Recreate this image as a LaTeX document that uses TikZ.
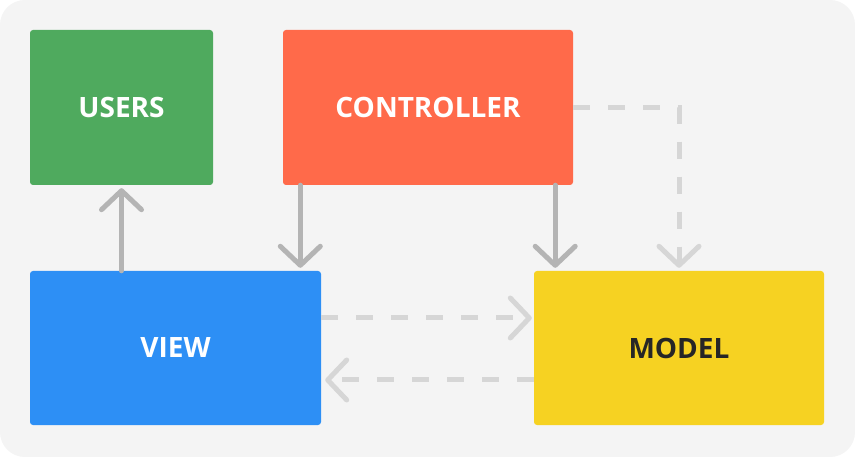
\documentclass[tikz,border=0pt]{standalone}
\usepackage{fontspec}
\setmainfont{Open Sans}
\usetikzlibrary{positioning,arrows.meta}

\definecolor{panelgray}{HTML}{F4F4F4}
\definecolor{usersgreen}{HTML}{4FAA5E}
\definecolor{ctrlred}{HTML}{FF6A4A}
\definecolor{viewblue}{HTML}{2D8FF5}
\definecolor{modelyellow}{HTML}{F6D222}
\definecolor{solidgray}{HTML}{B4B4B4}
\definecolor{dashgray}{HTML}{D6D6D6}

\begin{document}
\begin{tikzpicture}[x=1pt,y=-1pt,
  box/.style={rounded corners=3pt,inner sep=0pt,text=white,
    font=\bfseries\fontsize{28}{32}\selectfont},
  solidarr/.style={line width=5pt,draw=solidgray,line cap=round,
    -{Straight Barb[length=19pt,width=40pt,round]}},
  dasharr/.style={line width=5pt,draw=dashgray,dash pattern=on 17pt off 18pt,
    -{Straight Barb[length=19pt,width=40pt,round]}}]
 % panel
 \fill[white] (0,0) rectangle (855,457);
 \fill[panelgray,rounded corners=25pt] (0,0) rectangle (855,457);
 % boxes
 \node[box,fill=usersgreen,minimum width=183pt,minimum height=155pt]
   (users) at (121.5,107.5) {USERS};
 \node[box,fill=ctrlred,minimum width=290pt,minimum height=155pt]
   (controller) at (428,107.5) {CONTROLLER};
 \node[box,fill=viewblue,minimum width=291pt,minimum height=154pt]
   (view) at (175.5,348) {VIEW};
 \node[box,fill=modelyellow,text=black!85,minimum width=290pt,minimum height=154pt]
   (model) at (679,348) {MODEL};
 % solid arrows
 \coordinate (cv) at ([xshift=17.5pt]controller.south west);
 \coordinate (cm) at ([xshift=-18pt]controller.south east);
 \draw[solidarr,shorten >=3pt] (view.north -| users.south) -- (users.south);
 \draw[solidarr,shorten >=3pt] (cv) -- (cv |- view.north);
 \draw[solidarr,shorten >=3pt] (cm) -- (cm |- view.north);
 % dashed arrows
 \draw[dasharr,shorten >=3pt] (controller.east) -| (model.north);
 \coordinate (vm) at ([yshift=30pt]view.east);
 \coordinate (mv) at ([yshift=-32pt]model.west);
 \draw[dasharr,shorten >=2pt] (vm) -- (vm -| model.west);
 \draw[dasharr,shorten >=4pt] (mv) -- (mv -| view.east);
\end{tikzpicture}
\end{document}
